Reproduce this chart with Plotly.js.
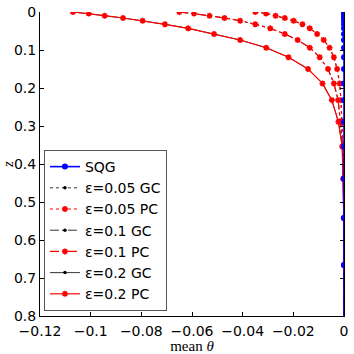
<!DOCTYPE html>
<html>
<head>
<meta charset="utf-8">
<script src="https://cdn.plot.ly/plotly-3.0.1.min.js"></script>
<style>html,body{margin:0;padding:0;background:#fff;}#chart{width:354px;height:354px;}</style>
</head>
<body>
<div id="chart"></div>
<script>
// vertical levels z
const z = [0, 0.004, 0.0097, 0.0158, 0.023, 0.0324, 0.043, 0.058, 0.0737, 0.094, 0.119, 0.15, 0.188, 0.232, 0.289, 0.354, 0.439, 0.542, 0.666, 0.82];
// mean theta profiles
const sqg = [0, 0, 0, 0, 0, 0, 0, 0, 0, 0, 0, 0, 0, 0, 0, 0, 0, 0, 0, 0];
const eps005GC = [-0.035, -0.0308, -0.027, -0.0234, -0.0199, -0.0164, -0.0135, -0.0106, -0.008, -0.0057, -0.004, -0.0027, -0.0017, -0.0012, -0.0008, -0.0004, -0.0001, 0, 0, 0];
const eps005PC = [-0.035, -0.0308, -0.027, -0.0234, -0.0199, -0.0164, -0.0135, -0.0106, -0.008, -0.0057, -0.004, -0.0027, -0.0017, -0.0012, -0.0008, -0.0004, -0.0001, 0, 0, 0];
const eps01GC = [-0.065, -0.0592, -0.0531, -0.0472, -0.041, -0.035, -0.0291, -0.0234, -0.0183, -0.0135, -0.0096, -0.0063, -0.004, -0.0023, -0.0014, -0.0005, -0.0002, 0, 0, 0];
const eps01PC = [-0.065, -0.0592, -0.0531, -0.0472, -0.041, -0.035, -0.0291, -0.0234, -0.0183, -0.0135, -0.0096, -0.0063, -0.004, -0.0023, -0.0014, -0.0005, -0.0002, 0, 0, 0];
const eps02GC = [-0.107, -0.1008, -0.0945, -0.0872, -0.0795, -0.0707, -0.0615, -0.0513, -0.041, -0.0307, -0.0219, -0.0142, -0.0085, -0.0048, -0.0022, -0.0007, -0.0003, -0.0001, 0, 0];
const eps02PC = [-0.107, -0.1008, -0.0945, -0.0872, -0.0795, -0.0707, -0.0615, -0.0513, -0.041, -0.0307, -0.0219, -0.0142, -0.0085, -0.0048, -0.0022, -0.0007, -0.0003, -0.0001, 0, 0];
const names = ['SQG', 'ε=0.05 GC', 'ε=0.05 PC', 'ε=0.1 GC', 'ε=0.1 PC', 'ε=0.2 GC', 'ε=0.2 PC'];
const xTicks = [-0.12, -0.1, -0.08, -0.06, -0.04, -0.02, 0];
const yTicks = [0, 0.1, 0.2, 0.3, 0.4, 0.5, 0.6, 0.7, 0.8];

function gc(x, name, dash, rank) {
  return {x: x, y: z, name: name, mode: 'lines+markers', legendrank: rank,
    line: {color: 'black', width: 0.8, dash: dash},
    marker: {color: 'black', size: 3.5, symbol: 'circle'}};
}
function pc(x, name, dash, rank) {
  return {x: x, y: z, name: name, mode: 'lines+markers', legendrank: rank,
    line: {color: 'red', width: 1.2, dash: dash},
    marker: {color: 'red', size: 5, symbol: 'asterisk-open', line: {color: 'red', width: 1.6}}};
}
const traces = [
  gc(eps005GC, names[1], 'dot', 2),
  pc(eps005PC, names[2], 'dot', 3),
  gc(eps01GC, names[3], 'dashdot', 4),
  pc(eps01PC, names[4], 'dashdot', 5),
  gc(eps02GC, names[5], 'solid', 6),
  pc(eps02PC, names[6], 'solid', 7),
  {x: sqg, y: z, name: names[0], mode: 'lines+markers', legendrank: 1,
    line: {color: 'blue', width: 1.6}, marker: {color: 'blue', size: 6, symbol: 'circle'}}
];

const tickFont = {family: 'DejaVu Sans, sans-serif', size: 14, color: 'black'};
const layout = {
  width: 354, height: 354,
  margin: {l: 40, r: 10, t: 12, b: 38},
  paper_bgcolor: 'white', plot_bgcolor: 'white',
  showlegend: true,
  xaxis: {
    range: [-0.12, 0], tickvals: xTicks,
    ticks: 'inside', ticklen: 4, tickcolor: 'black', ticklabelstandoff: 2,
    showline: true, linecolor: 'black', linewidth: 1, mirror: false,
    showgrid: false, zeroline: false, tickfont: tickFont,
    title: {text: 'mean <i>θ</i>', font: {family: 'Liberation Serif, DejaVu Serif, serif', size: 15, color: 'black'}, standoff: 5}
  },
  xaxis2: {
    range: [-0.12, 0], tickvals: xTicks, overlaying: 'x', side: 'top', anchor: 'y',
    ticks: 'inside', ticklen: 4, tickcolor: '#777', showticklabels: false,
    showline: true, linecolor: '#777', linewidth: 1, showgrid: false, zeroline: false
  },
  yaxis: {
    range: [0.8, 0], tickvals: yTicks,
    ticks: 'inside', ticklen: 4, tickcolor: 'black',
    showline: true, linecolor: 'black', linewidth: 1, mirror: 'ticks',
    showgrid: false, zeroline: false, tickfont: tickFont,
    title: {text: '<i>z</i>', font: {family: 'Liberation Serif, DejaVu Serif, serif', size: 15, color: 'black'}, standoff: 2}
  },
  legend: {
    x: 0.013, y: 0.546, xanchor: 'left', yanchor: 'top',
    bgcolor: 'white', bordercolor: '#555', borderwidth: 1,
    font: {family: 'DejaVu Sans, sans-serif', size: 14, color: 'black'},
    itemwidth: 30, tracegroupgap: 0
  }
};
Plotly.newPlot('chart', traces, layout, {displayModeBar: false, staticPlot: true});
</script>
</body>
</html>
